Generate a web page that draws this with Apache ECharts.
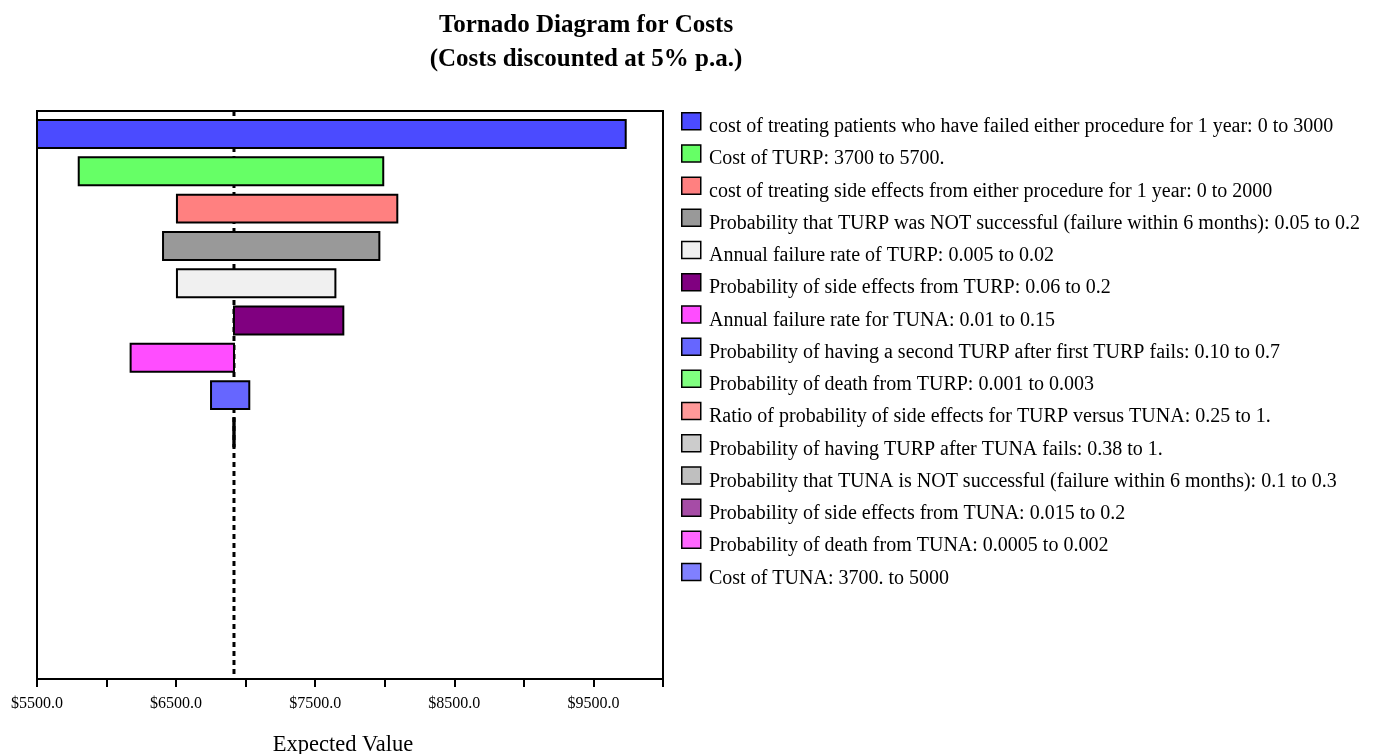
<!DOCTYPE html>
<html>
<head>
<meta charset="utf-8">
<script src="https://cdn.jsdelivr.net/npm/echarts@6/dist/echarts.min.js"></script>
<style>
html,body{margin:0;padding:0;background:#fff;}
#chart{width:1388px;height:754px;}
</style>
</head>
<body>
<div id="chart"></div>
<script>
// ---- data ----
const categories = [
  'cost of treating patients who have failed either procedure for 1 year: 0 to 3000',
  'Cost of TURP: 3700 to 5700.',
  'cost of treating side effects from either procedure for 1 year: 0 to 2000',
  'Probability that TURP was NOT successful (failure within 6 months): 0.05 to 0.2',
  'Annual failure rate of TURP: 0.005 to 0.02',
  'Probability of side effects from TURP: 0.06 to 0.2',
  'Annual failure rate for TUNA: 0.01 to 0.15',
  'Probability of having a second TURP after first TURP fails: 0.10 to 0.7',
  'Probability of death from TURP: 0.001 to 0.003',
  'Ratio of probability of side effects for TURP versus TUNA: 0.25 to 1.',
  'Probability of having TURP after TUNA fails: 0.38 to 1.',
  'Probability that TUNA is NOT successful (failure within 6 months): 0.1 to 0.3',
  'Probability of side effects from TUNA: 0.015 to 0.2',
  'Probability of death from TUNA: 0.0005 to 0.002',
  'Cost of TUNA: 3700. to 5000'
];
const expectedValue = 6916;
const lowValues  = [5500, 5800, 6506, 6406, 6506, 6916, 6173, 6751, 6911, 6916, 6916, 6916, 6916, 6916, 6916];
const highValues = [9732, 7989, 8090, 7961, 7645, 7702, 6916, 7026, 6921, 6916, 6916, 6916, 6916, 6916, 6916];
const colors = ['#4b4bff','#66ff66','#ff8080','#999999','#f0f0f0','#800080','#ff4dff','#6666ff',
                '#80ff80','#ff9999','#cccccc','#bfbfbf','#a64ca6','#ff66ff','#8080ff'];
const xTickLabels = {5500:'$5500.0', 6500:'$6500.0', 7500:'$7500.0', 8500:'$8500.0', 9500:'$9500.0'};
const xMin = 5500, xMax = 10000, xInterval = 500;
const yMin = -0.617, yMax = 14.61;

const serif = "'Liberation Serif','Times New Roman',serif";

function renderBar(params, api) {
  const lo = api.value(0), hi = api.value(1), row = api.value(2);
  if (hi - lo <= 0) return null;
  const p0 = api.coord([lo, row]);
  const p1 = api.coord([hi, row]);
  const h = api.size([0, 1])[1] * 0.75;
  return {
    type: 'rect',
    shape: { x: p0[0], y: p0[1] - h / 2, width: p1[0] - p0[0], height: h },
    style: { fill: api.visual('color'), stroke: '#000', lineWidth: 2 }
  };
}

const series = [{
  type: 'line',
  name: 'EV',
  data: [[expectedValue, yMin], [expectedValue, yMax]],
  symbol: 'none',
  silent: true,
  z: 1,
  lineStyle: { color: '#000', width: 3, type: [5, 4] }
}];
categories.forEach((name, i) => {
  series.push({
    type: 'custom',
    name: name,
    renderItem: renderBar,
    clip: true,
    z: 2,
    itemStyle: { color: colors[i], borderColor: '#000', borderWidth: 1.5 },
    encode: { x: [0, 1], y: 2 },
    data: [[lowValues[i], highValues[i], i]]
  });
});

const chart = echarts.init(document.getElementById('chart'), null, { renderer: 'canvas' });
chart.setOption({
  animation: false,
  backgroundColor: '#fff',
  title: {
    text: 'Tornado Diagram for Costs\n(Costs discounted at 5% p.a.)',
    left: 586, top: 9, textAlign: 'center', padding: 0,
    textStyle: { fontFamily: serif, fontWeight: 'bold', fontSize: 25, lineHeight: 34, color: '#000' }
  },
  grid: {
    left: 37, right: 725, top: 111, bottom: 75,
    outerBoundsMode: 'none', containLabel: false,
    show: true, borderColor: '#000', borderWidth: 2, backgroundColor: 'transparent'
  },
  xAxis: {
    type: 'value', min: xMin, max: xMax, interval: xInterval,
    name: 'Expected Value', nameLocation: 'middle', nameGap: 55,
    nameTextStyle: { fontFamily: serif, fontSize: 22.5, color: '#000', padding: [0, 14, 0, 0] },
    axisLine: { show: true, onZero: false, lineStyle: { color: '#000', width: 2 } },
    axisTick: { show: true, length: 8, lineStyle: { color: '#000', width: 2 } },
    axisLabel: {
      margin: 17, fontFamily: serif, fontSize: 16, color: '#000',
      formatter: v => xTickLabels[v] || ''
    },
    splitLine: { show: false }
  },
  yAxis: {
    type: 'value', min: yMin, max: yMax, inverse: true,
    axisLine: { show: false, onZero: false }, axisTick: { show: false },
    axisLabel: { show: false }, splitLine: { show: false }
  },
  legend: [{
    data: categories,
    orient: 'vertical',
    left: 681, top: 112, padding: 0,
    itemWidth: 19, itemHeight: 17, itemGap: 13.7,
    icon: 'rect',
    selectedMode: false,
    formatter: () => '',
    itemStyle: { borderColor: '#000', borderWidth: 1.5 },
    textStyle: { fontSize: 8, lineHeight: 8 }
  }, {
    data: categories,
    orient: 'vertical',
    left: 703, top: 117, padding: 0,
    itemWidth: 1, itemHeight: 20, itemGap: 12.24,
    icon: 'rect',
    selectedMode: false,
    itemStyle: { opacity: 0, borderWidth: 0 },
    textStyle: { fontFamily: serif, fontSize: 20, color: '#000', lineHeight: 20 }
  }],
  series: series
});
</script>
</body>
</html>
